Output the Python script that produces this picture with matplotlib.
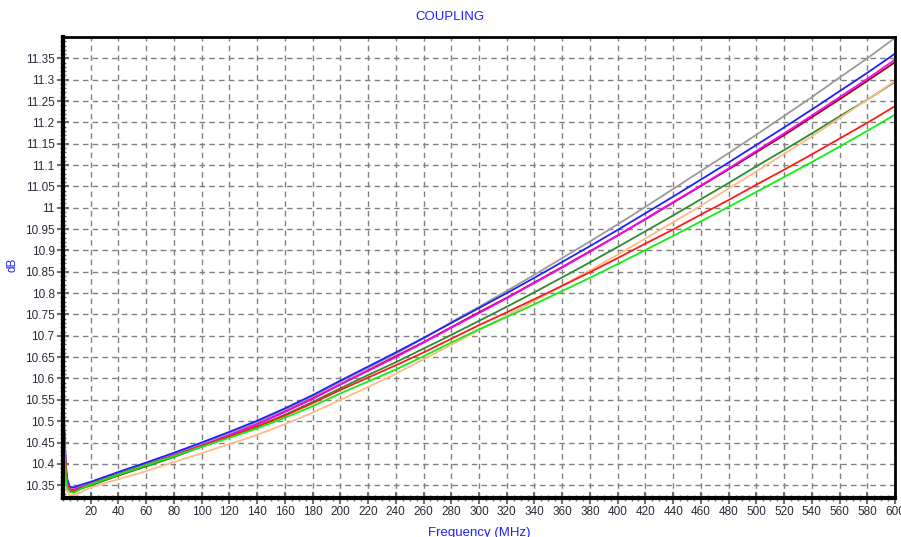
import numpy as np
import matplotlib
matplotlib.use('Agg')
import matplotlib.pyplot as plt
from matplotlib.ticker import MultipleLocator, FormatStrFormatter

plt.rcParams['font.family'] = ['Liberation Sans', 'DejaVu Sans']

# frequency points (MHz)
freq = [0, 1, 2, 3, 5, 8, 12, 20, 40, 60, 80, 100, 120, 140, 160, 180, 200,
        220, 240, 260, 280, 300, 320, 340, 360, 380, 400, 420, 440, 460, 480,
        500, 520, 540, 560, 580, 600]

# coupling traces (dB)
gray = [10.580, 10.470, 10.395, 10.360, 10.342, 10.341, 10.346,
        10.355, 10.378, 10.400, 10.423, 10.447, 10.472, 10.498, 10.527, 10.558, 10.592,
        10.625, 10.658, 10.694, 10.732, 10.768, 10.805, 10.843, 10.882, 10.921, 10.961,
        11.002, 11.044, 11.086, 11.128, 11.171, 11.215, 11.259, 11.305, 11.350, 11.398]
blue = [10.600, 10.480, 10.400, 10.365, 10.346, 10.345, 10.350,
        10.358, 10.381, 10.403, 10.426, 10.450, 10.475, 10.501, 10.530, 10.561, 10.595,
        10.628, 10.661, 10.695, 10.730, 10.765, 10.800, 10.836, 10.873, 10.910, 10.948,
        10.987, 11.026, 11.066, 11.106, 11.147, 11.188, 11.230, 11.273, 11.316, 11.361]
maroon = [10.560, 10.455, 10.385, 10.355, 10.338, 10.337, 10.342,
          10.350, 10.373, 10.395, 10.418, 10.442, 10.467, 10.493, 10.522, 10.553, 10.586,
          10.619, 10.652, 10.685, 10.720, 10.755, 10.789, 10.825, 10.861, 10.898, 10.935,
          10.973, 11.012, 11.051, 11.090, 11.130, 11.170, 11.212, 11.254, 11.297, 11.341]
magenta = [10.550, 10.460, 10.390, 10.358, 10.340, 10.339, 10.344,
           10.352, 10.375, 10.397, 10.420, 10.443, 10.467, 10.493, 10.522, 10.552, 10.586,
           10.618, 10.650, 10.684, 10.719, 10.753, 10.788, 10.824, 10.860, 10.897, 10.935,
           10.974, 11.013, 11.052, 11.092, 11.133, 11.174, 11.216, 11.259, 11.302, 11.347]
dkgreen = [10.550, 10.450, 10.380, 10.350, 10.336, 10.335, 10.340,
           10.350, 10.373, 10.394, 10.416, 10.440, 10.463, 10.488, 10.515, 10.545, 10.577,
           10.608, 10.638, 10.670, 10.702, 10.735, 10.768, 10.802, 10.837, 10.872, 10.908,
           10.945, 10.982, 11.020, 11.058, 11.097, 11.135, 11.174, 11.214, 11.253, 11.295]
peach = [10.540, 10.430, 10.360, 10.335, 10.326, 10.327, 10.332,
         10.345, 10.364, 10.383, 10.404, 10.425, 10.446, 10.468, 10.493, 10.520, 10.550,
         10.580, 10.611, 10.645, 10.679, 10.713, 10.747, 10.782, 10.818, 10.853, 10.890,
         10.928, 10.966, 11.005, 11.045, 11.085, 11.126, 11.167, 11.210, 11.253, 11.297]
red = [10.550, 10.450, 10.380, 10.350, 10.337, 10.336, 10.342,
       10.353, 10.376, 10.398, 10.419, 10.442, 10.464, 10.487, 10.513, 10.542, 10.573,
       10.602, 10.631, 10.661, 10.693, 10.725, 10.755, 10.786, 10.817, 10.849, 10.882,
       10.916, 10.949, 10.984, 11.018, 11.054, 11.089, 11.125, 11.162, 11.199, 11.238]
lime = [10.560, 10.450, 10.370, 10.345, 10.334, 10.333, 10.340,
        10.352, 10.375, 10.397, 10.418, 10.440, 10.461, 10.483, 10.508, 10.535, 10.565,
        10.593, 10.621, 10.652, 10.684, 10.715, 10.744, 10.774, 10.805, 10.836, 10.868,
        10.901, 10.934, 10.968, 11.002, 11.037, 11.072, 11.107, 11.143, 11.180, 11.218]

traces = [(gray, '#9a9a9a'), (blue, '#1f1fff'), (maroon, '#8b0a0a'),
          (magenta, '#ff00ff'), (dkgreen, '#2e8b2e'), (peach, '#ffbb85'),
          (red, '#ff1a1a'), (lime, '#11ee11')]

fig = plt.figure(figsize=(9.01, 5.37), dpi=100)
ax = fig.add_axes([63/901, 1-498/537, (895-63)/901, (498-37)/537])

for vals, col in traces:
    ax.plot(freq, vals, color=col, lw=1.3)

ax.set_xlim(0, 600)
ax.set_ylim(10.32, 11.40)

ax.xaxis.set_major_locator(MultipleLocator(20))
ax.xaxis.set_minor_locator(MultipleLocator(5))
ax.yaxis.set_major_locator(MultipleLocator(0.05))
ax.yaxis.set_minor_locator(MultipleLocator(0.01))
ax.yaxis.set_major_formatter(FormatStrFormatter('%g'))
ax.set_xticks(range(20, 601, 20))
ax.set_yticks(np.arange(10.35, 11.351, 0.05))
ax.set_yticklabels(['%g' % round(v, 2) for v in np.arange(10.35, 11.351, 0.05)])

ax.grid(True, which='major', color='#808080', ls=(0, (4, 3)), lw=1)
ax.tick_params(which='major', direction='inout', length=8, width=1.5,
               color='#707070', labelsize=8.5, labelcolor='#2a2a3a', pad=2)
ax.tick_params(which='minor', direction='inout', length=4, width=1, color='#707070')

for side in ['left', 'bottom']:
    ax.spines[side].set_linewidth(3)
for side in ['top', 'right']:
    ax.spines[side].set_linewidth(2)

fig.text(450/901, 1-17/537, 'COUPLING', color='#2020ff', fontsize=9.5,
         ha='center', va='center')
fig.text(12/901, 1-265/537, 'dB', color='#2020ff', fontsize=8.5,
         rotation=90, ha='center', va='center')
fig.text(479/901, 1-527/537, 'Frequency (MHz)', color='#2020ff', fontsize=9.5,
         ha='center', va='top')

fig.savefig('out.png', dpi=100)
